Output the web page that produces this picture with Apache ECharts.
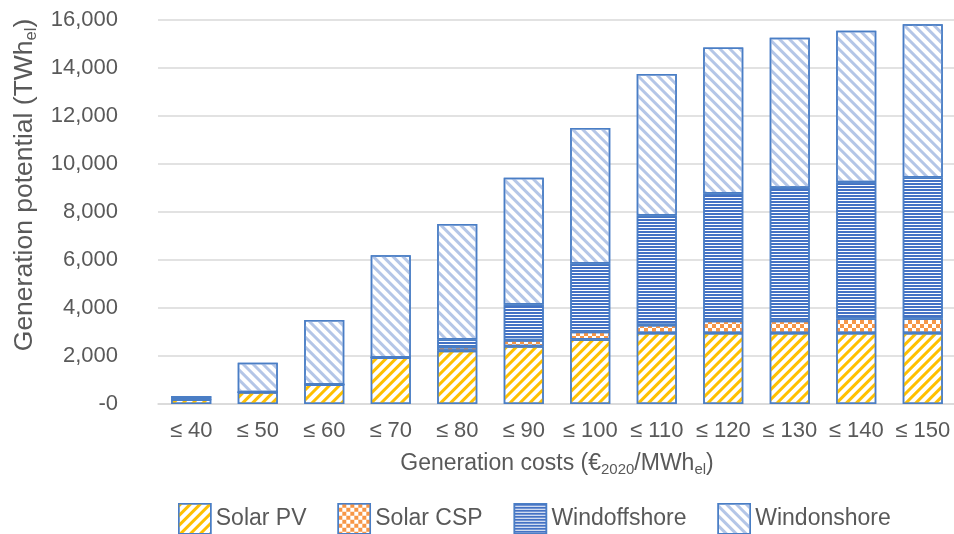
<!DOCTYPE html>
<html>
<head>
<meta charset="utf-8">
<script src="https://cdn.jsdelivr.net/npm/echarts@6/dist/echarts.min.js"></script>
<style>
  html, body { margin: 0; padding: 0; background: #fff; }
  #chart { width: 954px; height: 534px; }
</style>
</head>
<body>
<div id="chart"></div>
<script>
// Generation cost classes (EUR2020 per MWh_el)
const categories = ['≤ 40', '≤ 50', '≤ 60', '≤ 70', '≤ 80', '≤ 90', '≤ 100', '≤ 110', '≤ 120', '≤ 130', '≤ 140', '≤ 150'];

// Generation potential per technology (TWh_el)
const solarPV      = [190, 490, 810, 1940, 2220, 2410, 2690, 2960, 2960, 2960, 2960, 2960];
const solarCSP     = [0, 0, 0, 0, 150, 250, 320, 330, 510, 510, 600, 600];
const windOffshore = [110, 0, 0, 0, 320, 1490, 2840, 4560, 5300, 5540, 5680, 5880];
const windOnshore  = [0, 1230, 2690, 4260, 4810, 5280, 5650, 5900, 6080, 6250, 6310, 6380];

const yTicks = { min: 0, max: 16000, interval: 2000 };

const FONT = '"Liberation Sans", Arial, sans-serif';
const TEXT = '#595959';
const EDGE = '#4A7EC5';

// Hatch fills for the four technologies
const hatch = {
  pv:  { symbol: 'rect', symbolSize: 1, color: '#FFC000', dashArrayX: [1, 0], dashArrayY: [3, 4], rotation: -Math.PI / 4 },
  csp: { symbol: 'rect', symbolSize: 1, color: '#F79646', dashArrayX: [[4, 4], [0, 4, 4, 0]], dashArrayY: [4, 0] },
  off: { symbol: 'rect', symbolSize: 1, color: '#4472C4', dashArrayX: [1, 0], dashArrayY: [2, 1] },
  on:  { symbol: 'rect', symbolSize: 1, color: '#B4C6E7', dashArrayX: [1, 0], dashArrayY: [3, 4], rotation: Math.PI / 4 }
};

function barSeries(name, data, decal) {
  return {
    name: name,
    type: 'bar',
    stack: 'total',
    barWidth: 40,
    data: data,
    itemStyle: { color: '#ffffff', borderColor: EDGE, borderWidth: 1.5, decal: decal },
    emphasis: { disabled: true }
  };
}

function subRich(main, sub) {
  return {
    m: { fontFamily: FONT, fontSize: main, color: TEXT, lineHeight: Math.round(main * 1.15) },
    s: { fontFamily: FONT, fontSize: sub, color: TEXT, lineHeight: sub, verticalAlign: 'bottom' }
  };
}

const chart = echarts.init(document.getElementById('chart'), null, { renderer: 'canvas' });
chart.setOption({
  animation: false,
  backgroundColor: '#ffffff',
  grid: { left: 158, right: -2, top: 20, bottom: 130, containLabel: false, outerBoundsMode: 'none' },
  legend: {
    left: 178,
    top: 503,
    padding: 0,
    itemWidth: 32,
    itemHeight: 30,
    itemGap: 31,
    icon: 'rect',
    itemStyle: { borderColor: EDGE, borderWidth: 1.5 },
    textStyle: { fontFamily: FONT, fontSize: 23, color: TEXT },
    data: ['Solar PV', 'Solar CSP', 'Windoffshore', 'Windonshore']
  },
  xAxis: {
    type: 'category',
    data: categories,
    axisTick: { show: false },
    axisLine: { lineStyle: { color: '#D9D9D9', width: 1.5 } },
    axisLabel: { fontFamily: FONT, fontSize: 22, color: TEXT, margin: 16, interval: 0 },
    name: '{m|Generation costs (€}{s|2020}{m|/MWh}{s|el}{m|)}',
    nameLocation: 'middle',
    nameGap: 47,
    nameTextStyle: { rich: subRich(23, 15) }
  },
  yAxis: {
    type: 'value',
    min: yTicks.min,
    max: yTicks.max,
    interval: yTicks.interval,
    axisLine: { show: false },
    axisTick: { show: false },
    splitLine: { lineStyle: { color: '#D9D9D9', width: 1.5 } },
    axisLabel: {
      fontFamily: FONT, fontSize: 22, color: TEXT, margin: 40,
      formatter: v => v === 0 ? '-0' : v.toLocaleString('en-US')
    },
    name: '{m|Generation potential (TWh}{s|el}{m|)}',
    nameLocation: 'middle',
    nameGap: 118,
    nameTextStyle: { rich: subRich(26.5, 16.5), padding: [0, 0, 0, 54] }
  },
  series: [
    barSeries('Solar PV', solarPV, hatch.pv),
    barSeries('Solar CSP', solarCSP, hatch.csp),
    barSeries('Windoffshore', windOffshore, hatch.off),
    barSeries('Windonshore', windOnshore, hatch.on)
  ]
});
</script>
</body>
</html>
